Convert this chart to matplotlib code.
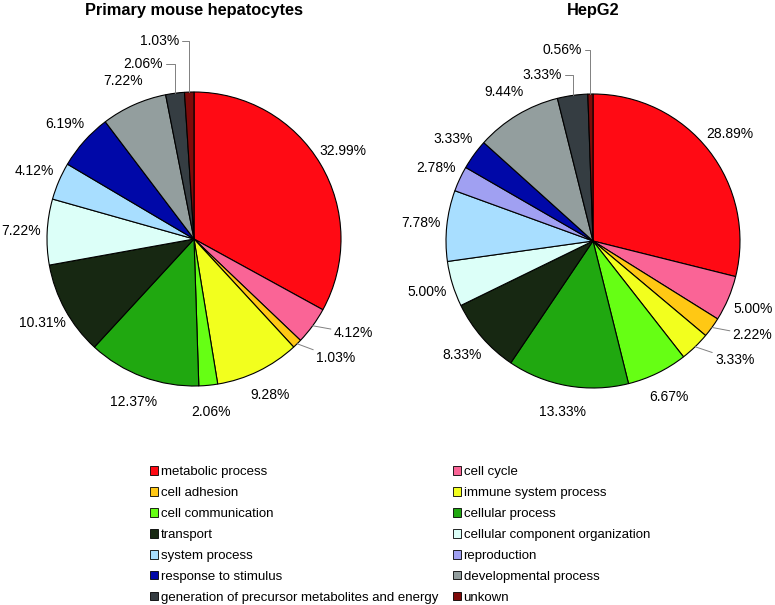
import numpy as np
import matplotlib.pyplot as plt
from matplotlib.patches import Patch

plt.rcParams['font.family'] = ['Liberation Sans', 'DejaVu Sans']

# GO categories (same order in both pies, clockwise from 12 o'clock)
categories = ['metabolic process', 'cell cycle', 'cell adhesion', 'immune system process',
              'cell communication', 'cellular process', 'transport',
              'cellular component organization', 'system process', 'reproduction',
              'response to stimulus', 'developmental process',
              'generation of precursor metabolites and energy', 'unkown']
colors = ['#FF0A14', '#FA6496', '#FFC814', '#F2FF1E', '#66FF14', '#20A810', '#172812',
          '#DCFFF8', '#A8DEFF', '#A0A0F2', '#0008A8', '#939E9E', '#353D42', '#7F0A0A']

mouse_pct = [32.99, 4.12, 1.03, 9.28, 2.06, 12.37, 10.31, 7.22, 4.12, 0, 6.19, 7.22, 2.06, 1.03]
hepg2_pct = [28.89, 5.00, 2.22, 3.33, 6.67, 13.33, 8.33, 5.00, 7.78, 2.78, 3.33, 9.44, 3.33, 0.56]

# label overrides with leader lines: category index -> (x, y, ha, connection)
# (in units of pie radius)
mouse_leaders = {1: (0.95, -0.64, 'left', 'arc3'),
                 2: (0.83, -0.81, 'left', 'arc3'),
                 12: (-0.21, 1.19, 'right', 'angle,angleA=0,angleB=90,rad=0'),
                 13: (-0.10, 1.35, 'right', 'angle,angleA=0,angleB=90,rad=0')}
hepg2_leaders = {2: (0.95, -0.64, 'left', 'arc3'),
                 3: (0.83, -0.81, 'left', 'arc3'),
                 12: (-0.21, 1.13, 'right', 'angle,angleA=0,angleB=90,rad=0'),
                 13: (-0.075, 1.30, 'right', 'angle,angleA=0,angleB=90,rad=0')}

W, H = 775, 605
R_PX = 147
S_PX = 400
fig = plt.figure(figsize=(W / 100, H / 100), dpi=100)


def draw_pie(cx, cy, pct, leaders, title):
    ax = fig.add_axes([(cx - S_PX / 2) / W, (H - cy - S_PX / 2) / H, S_PX / W, S_PX / H])
    idx = [i for i, v in enumerate(pct) if v > 0]
    vals = [pct[i] for i in idx]
    cols = [colors[i] for i in idx]
    labs = ['%.2f%%' % v for v in vals]
    wedges, texts = ax.pie(vals, colors=cols, labels=labs, startangle=90, counterclock=False,
                           labeldistance=1.18, radius=1,
                           wedgeprops=dict(edgecolor='black', linewidth=0.8),
                           textprops=dict(fontsize=10))
    for k, (w, t) in enumerate(zip(wedges, texts)):
        t.set_ha('center')
        t.set_va('center')
        i = idx[k]
        if i in leaders:
            tx, ty, ha, cs = leaders[i]
            mid = np.deg2rad((w.theta1 + w.theta2) / 2)
            t.set_visible(False)
            ax.annotate(labs[k], xy=(np.cos(mid), np.sin(mid)), xytext=(tx, ty),
                        ha=ha, va='center', fontsize=10,
                        arrowprops=dict(arrowstyle='-', color='#808080', lw=0.7,
                                        shrinkA=0, shrinkB=0, connectionstyle=cs))
    lim = S_PX / 2 / R_PX
    ax.set_xlim(-lim, lim)
    ax.set_ylim(-lim, lim)
    ax.axis('off')
    fig.text(cx / W, 1 - 10 / H, title, ha='center', va='center', fontsize=11.8,
             fontweight='bold')


draw_pie(194, 239, mouse_pct, mouse_leaders, 'Primary mouse hepatocytes')
draw_pie(593, 241, hepg2_pct, hepg2_leaders, 'HepG2')

# legend, filled row by row in two columns
handles = [Patch(facecolor=c, edgecolor='black', linewidth=0.6) for c in colors]
order = list(range(0, len(categories), 2)) + list(range(1, len(categories), 2))
fig.legend([handles[i] for i in order], [categories[i] for i in order], ncol=2,
           loc='upper left', bbox_to_anchor=(150 / W, 1 - 466 / H), frameon=False,
           fontsize=9.5, handlelength=0.62, handleheight=0.62, handletextpad=0.2,
           labelspacing=0.68, columnspacing=1.1, borderaxespad=0, borderpad=0)

fig.savefig('out.png', dpi=100)
